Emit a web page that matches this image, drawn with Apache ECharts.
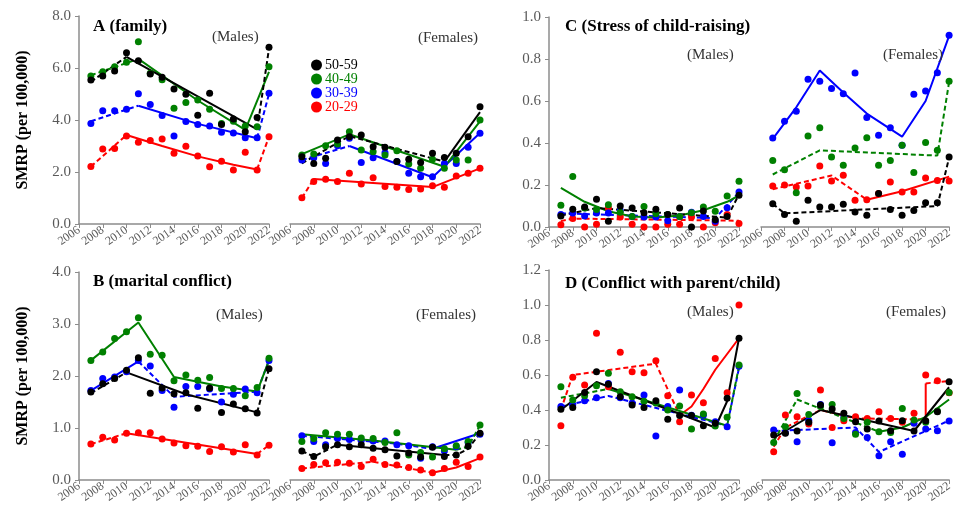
<!DOCTYPE html>
<html>
<head>
<meta charset="utf-8">
<script src="https://cdn.jsdelivr.net/npm/echarts@6/dist/echarts.min.js"></script>
<style>
html, body { margin: 0; padding: 0; background: #fff; }
#chart { width: 955px; height: 515px; }
</style>
</head>
<body>
<div id="chart"></div>
<script>
// years and age groups
var years = [2007, 2008, 2009, 2010, 2011, 2012, 2013, 2014, 2015, 2016, 2017, 2018, 2019, 2020, 2021, 2022];
var ageGroups = ['50-59', '40-49', '30-39', '20-29'];

// observed SMRP, rows in ageGroups order
var familyMales = [
  [5.54, 5.69, 5.88, 6.59, 6.28, 5.77, 5.64, 5.19, 4.99, 4.18, 5.03, 3.83, 4.04, 3.55, 4.10, 6.80],
  [5.69, 5.86, 6.05, 6.22, 7.01, 5.80, 5.55, 4.45, 4.67, 4.77, 4.41, 3.87, 3.95, 3.77, 3.74, 6.05],
  [3.87, 4.36, 4.36, 4.41, 5.01, 4.60, 4.17, 3.38, 3.94, 3.83, 3.77, 3.53, 3.50, 3.32, 3.32, 5.03],
  [2.21, 2.88, 2.90, 3.38, 3.14, 3.21, 3.27, 2.72, 2.99, 2.62, 2.20, 2.41, 2.08, 2.76, 2.08, 3.36]
];
var familyFemales = [
  [2.59, 2.33, 2.53, 3.23, 3.36, 3.42, 2.97, 2.95, 2.40, 2.49, 2.37, 2.72, 2.56, 2.72, 3.36, 4.51],
  [2.65, 2.69, 3.01, 3.08, 3.55, 2.85, 2.78, 2.65, 2.82, 2.31, 2.14, 2.49, 2.14, 2.46, 2.46, 4.00],
  [2.46, 2.55, 2.33, 3.01, 3.30, 2.37, 2.55, 2.74, 2.40, 1.95, 1.82, 1.82, 2.33, 2.33, 2.95, 3.49],
  [1.01, 1.63, 1.72, 1.63, 1.95, 1.54, 1.78, 1.44, 1.41, 1.33, 1.35, 1.47, 1.41, 1.85, 1.95, 2.14]
];
var maritalMales = [
  [1.69, 1.85, 1.95, 2.11, 2.35, 1.67, 1.77, 1.66, 1.68, 1.38, 1.77, 1.30, 1.46, 1.37, 1.29, 2.14],
  [2.30, 2.46, 2.72, 2.85, 3.12, 2.42, 2.40, 1.91, 2.02, 1.92, 1.97, 1.76, 1.76, 1.62, 1.78, 2.34],
  [1.72, 1.95, 1.98, 2.08, 2.30, 2.19, 1.72, 1.40, 1.80, 1.80, 1.75, 1.50, 1.65, 1.75, 1.68, 2.30],
  [0.69, 0.82, 0.77, 0.90, 0.91, 0.91, 0.79, 0.71, 0.66, 0.65, 0.55, 0.64, 0.54, 0.68, 0.48, 0.67]
];
var maritalFemales = [
  [0.56, 0.45, 0.64, 0.68, 0.64, 0.68, 0.61, 0.58, 0.46, 0.52, 0.44, 0.63, 0.45, 0.48, 0.65, 0.90],
  [0.74, 0.80, 0.91, 0.88, 0.88, 0.81, 0.80, 0.72, 0.91, 0.48, 0.53, 0.44, 0.60, 0.66, 0.74, 1.06],
  [0.85, 0.74, 0.68, 0.80, 0.78, 0.76, 0.75, 0.75, 0.68, 0.66, 0.42, 0.64, 0.56, 0.64, 0.72, 0.88],
  [0.22, 0.30, 0.33, 0.34, 0.32, 0.26, 0.40, 0.30, 0.29, 0.24, 0.19, 0.14, 0.22, 0.34, 0.26, 0.44]
];
var childMales = [
  [0.052, 0.085, 0.095, 0.132, 0.027, 0.100, 0.090, 0.068, 0.084, 0.060, 0.090, 0.000, 0.076, 0.035, 0.050, 0.151],
  [0.103, 0.241, 0.090, 0.083, 0.106, 0.070, 0.050, 0.098, 0.063, 0.060, 0.050, 0.068, 0.095, 0.075, 0.148, 0.218],
  [0.060, 0.067, 0.052, 0.067, 0.067, 0.079, 0.050, 0.048, 0.048, 0.030, 0.050, 0.070, 0.050, 0.027, 0.092, 0.167],
  [0.011, 0.040, 0.000, 0.013, 0.090, 0.048, 0.013, 0.000, 0.000, 0.013, 0.013, 0.048, 0.000, 0.020, 0.060, 0.017]
];
var childFemales = [
  [0.111, 0.059, 0.027, 0.127, 0.095, 0.095, 0.108, 0.071, 0.056, 0.159, 0.083, 0.056, 0.079, 0.116, 0.116, 0.333],
  [0.317, 0.273, 0.163, 0.433, 0.473, 0.333, 0.294, 0.376, 0.425, 0.294, 0.317, 0.389, 0.259, 0.402, 0.365, 0.694],
  [0.424, 0.503, 0.551, 0.703, 0.694, 0.659, 0.635, 0.733, 0.521, 0.437, 0.473, 0.389, 0.632, 0.648, 0.735, 0.913],
  [0.195, 0.200, 0.190, 0.195, 0.290, 0.219, 0.246, 0.127, 0.130, 0.159, 0.214, 0.167, 0.167, 0.233, 0.222, 0.219]
];
var parentMales = [
  [0.404, 0.415, 0.500, 0.619, 0.547, 0.476, 0.429, 0.415, 0.453, 0.347, 0.368, 0.368, 0.310, 0.324, 0.467, 0.810],
  [0.533, 0.457, 0.482, 0.539, 0.610, 0.505, 0.476, 0.450, 0.440, 0.400, 0.423, 0.291, 0.377, 0.309, 0.358, 0.657],
  [0.420, 0.430, 0.453, 0.470, 0.552, 0.470, 0.440, 0.486, 0.251, 0.420, 0.514, 0.370, 0.370, 0.333, 0.305, 0.650],
  [0.310, 0.587, 0.543, 0.838, 0.533, 0.730, 0.619, 0.613, 0.682, 0.482, 0.333, 0.486, 0.442, 0.695, 0.499, 1.000]
];
var parentFemales = [
  [0.257, 0.267, 0.280, 0.330, 0.429, 0.406, 0.381, 0.333, 0.291, 0.337, 0.282, 0.339, 0.280, 0.339, 0.390, 0.562],
  [0.215, 0.305, 0.495, 0.375, 0.420, 0.432, 0.352, 0.261, 0.330, 0.276, 0.271, 0.409, 0.343, 0.330, 0.394, 0.500],
  [0.286, 0.270, 0.219, 0.340, 0.432, 0.213, 0.360, 0.271, 0.243, 0.139, 0.219, 0.147, 0.324, 0.291, 0.282, 0.337],
  [0.162, 0.371, 0.362, 0.320, 0.514, 0.300, 0.339, 0.362, 0.352, 0.390, 0.352, 0.330, 0.381, 0.600, 0.567, 0.499]
];

// joinpoint fits: segments of [year, value], sig=false drawn dashed
var familyMalesFit = [
  [{sig: false, pts: [[2007, 5.47], [2010, 6.43]]}, {sig: true, pts: [[2010, 6.43], [2021, 3.64]]}, {sig: false, pts: [[2021, 3.64], [2022, 6.75]]}],
  [{sig: false, pts: [[2007, 5.72], [2011, 6.35]]}, {sig: true, pts: [[2011, 6.35], [2016, 4.75], [2020, 3.62]]}, {sig: true, pts: [[2020, 3.62], [2022, 5.85]]}],
  [{sig: false, pts: [[2007, 3.95], [2011, 4.55]]}, {sig: true, pts: [[2011, 4.55], [2016, 3.85], [2021, 3.30]]}, {sig: false, pts: [[2021, 3.30], [2022, 5.00]]}],
  [{sig: false, pts: [[2007, 2.21], [2010, 3.42]]}, {sig: true, pts: [[2010, 3.42], [2013, 3.00], [2016, 2.60], [2019, 2.28], [2021, 2.10]]}, {sig: false, pts: [[2021, 2.10], [2022, 3.36]]}]
];
var familyFemalesFit = [
  [{sig: false, pts: [[2007, 2.33], [2011, 3.38], [2019, 2.40]]}, {sig: true, pts: [[2019, 2.40], [2022, 4.30]]}],
  [{sig: true, pts: [[2007, 2.69], [2011, 3.45], [2019, 2.20], [2022, 3.95]]}],
  [{sig: false, pts: [[2007, 2.46], [2011, 3.00]]}, {sig: true, pts: [[2011, 3.00], [2018, 1.80], [2022, 3.50]]}],
  [{sig: false, pts: [[2007, 1.00], [2008, 1.73]]}, {sig: true, pts: [[2008, 1.73], [2018, 1.42], [2022, 2.14]]}]
];
var maritalMalesFit = [
  [{sig: false, pts: [[2007, 1.67], [2010, 2.07]]}, {sig: true, pts: [[2010, 2.07], [2015, 1.65], [2021, 1.30]]}, {sig: false, pts: [[2021, 1.30], [2022, 2.14]]}],
  [{sig: true, pts: [[2007, 2.30], [2011, 3.03], [2014, 1.98], [2018, 1.80], [2021, 1.70], [2022, 2.30]]}],
  [{sig: true, pts: [[2007, 1.72], [2011, 2.28]]}, {sig: false, pts: [[2011, 2.28], [2014, 1.60], [2021, 1.70], [2022, 2.30]]}],
  [{sig: false, pts: [[2007, 0.69], [2010, 0.90]]}, {sig: true, pts: [[2010, 0.90], [2021, 0.50]]}, {sig: false, pts: [[2021, 0.50], [2022, 0.67]]}]
];
var maritalFemalesFit = [
  [{sig: false, pts: [[2007, 0.56], [2008, 0.45], [2010, 0.68]]}, {sig: true, pts: [[2010, 0.68], [2019, 0.48]]}, {sig: false, pts: [[2019, 0.48], [2020, 0.48], [2021, 0.60], [2022, 0.90]]}],
  [{sig: true, pts: [[2007, 0.88], [2013, 0.76], [2020, 0.58]]}, {sig: false, pts: [[2020, 0.58], [2021, 0.64], [2022, 1.05]]}],
  [{sig: false, pts: [[2007, 0.85], [2015, 0.70], [2018, 0.60]]}, {sig: true, pts: [[2018, 0.60], [2022, 0.90]]}],
  [{sig: false, pts: [[2007, 0.22], [2013, 0.35], [2018, 0.14]]}, {sig: true, pts: [[2018, 0.14], [2020, 0.24], [2022, 0.42]]}]
];
var childMalesFit = [
  [{sig: false, pts: [[2007, 0.055], [2010, 0.090], [2021, 0.045], [2022, 0.155]]}],
  [{sig: true, pts: [[2007, 0.186], [2009, 0.120], [2011, 0.075], [2013, 0.050], [2015, 0.045], [2017, 0.055], [2019, 0.080], [2021, 0.120], [2022, 0.150]]}],
  [{sig: false, pts: [[2007, 0.065], [2020, 0.042], [2022, 0.165]]}],
  [{sig: false, pts: [[2007, 0.028], [2008, 0.040], [2022, 0.030]]}]
];
var childFemalesFit = [
  [{sig: false, pts: [[2007, 0.110], [2008, 0.065], [2021, 0.100], [2022, 0.330]]}],
  [{sig: false, pts: [[2007, 0.250], [2011, 0.365], [2021, 0.340], [2022, 0.690]]}],
  [{sig: true, pts: [[2007, 0.420], [2009, 0.570], [2011, 0.745], [2013, 0.640], [2015, 0.540], [2018, 0.430], [2020, 0.600], [2022, 0.910]]}],
  [{sig: false, pts: [[2007, 0.180], [2012, 0.245], [2015, 0.130]]}, {sig: true, pts: [[2015, 0.130], [2018, 0.170], [2022, 0.240]]}]
];
var parentMalesFit = [
  [{sig: true, pts: [[2007, 0.40], [2010, 0.56], [2020, 0.30], [2021, 0.45], [2022, 0.81]]}],
  [{sig: false, pts: [[2007, 0.47], [2011, 0.52]]}, {sig: true, pts: [[2011, 0.52], [2021, 0.31]]}, {sig: false, pts: [[2021, 0.31], [2022, 0.65]]}],
  [{sig: false, pts: [[2007, 0.42], [2011, 0.48], [2021, 0.31], [2022, 0.64]]}],
  [{sig: false, pts: [[2007, 0.40], [2008, 0.60], [2015, 0.665], [2017, 0.37]]}, {sig: true, pts: [[2017, 0.37], [2018, 0.42], [2019, 0.52], [2020, 0.63], [2021, 0.72], [2022, 0.81]]}]
];
var parentFemalesFit = [
  [{sig: true, pts: [[2007, 0.24], [2011, 0.40], [2019, 0.28], [2022, 0.53]]}],
  [{sig: false, pts: [[2007, 0.22], [2009, 0.46], [2016, 0.276]]}, {sig: true, pts: [[2016, 0.276], [2018, 0.30], [2020, 0.36], [2022, 0.46]]}],
  [{sig: false, pts: [[2007, 0.28], [2014, 0.30], [2016, 0.16], [2020, 0.28], [2022, 0.34]]}],
  [{sig: false, pts: [[2007, 0.19], [2008, 0.30], [2011, 0.40], [2014, 0.352], [2020, 0.346]]}, {sig: true, pts: [[2020, 0.346], [2020, 0.552]]}, {sig: false, pts: [[2020, 0.552], [2022, 0.566]]}]
];

var FONT = '"Liberation Serif", "Times New Roman", serif';
var COLORS = ['#000000', '#008000', '#0000ff', '#ff0000'];
var AXIS = '#8c8c8c';
var LABEL = '#595959';

var panels = [
  {title: 'A (family)', m: familyMales, mf: familyMalesFit, f: familyFemales, ff: familyFemalesFit,
   max: 8, step: 2, top: 16, h: 208, ml: 79, fl: 290, fw: 190, yName: true,
   tx: 88, ty: 13, mx: 207, my: 25, fx: 413, fy: 26},
  {title: 'B (marital conflict)', m: maritalMales, mf: maritalMalesFit, f: maritalFemales, ff: maritalFemalesFit,
   max: 4, step: 1, top: 272, h: 208, ml: 79, fl: 290, fw: 190, yName: true,
   tx: 88, ty: 268, mx: 211, my: 303, fx: 411, fy: 303},
  {title: 'C (Stress of child-raising)', m: childMales, mf: childMalesFit, f: childFemales, ff: childFemalesFit,
   max: 1, step: 0.2, top: 17, h: 210, ml: 549, fl: 761, fw: 191, yName: false,
   tx: 560, ty: 13, mx: 682, my: 43, fx: 878, fy: 43},
  {title: 'D (Conflict with parent/child)', m: parentMales, mf: parentMalesFit, f: parentFemales, ff: parentFemalesFit,
   max: 1.2, step: 0.2, top: 270, h: 210, ml: 549, fl: 762, fw: 190, yName: false,
   tx: 560, ty: 270, mx: 682, my: 300, fx: 881, fy: 300}
];

var grids = [], xAxes = [], yAxes = [], series = [], titles = [];

function xAxisFor(idx) {
  return {
    gridIndex: idx, type: 'value', min: 2006, max: 2022, interval: 2,
    axisLine: {show: true, lineStyle: {color: AXIS, width: 1.5}},
    axisTick: {show: true, length: 4, lineStyle: {color: AXIS}},
    splitLine: {show: false},
    axisLabel: {rotate: 35, margin: 5, fontSize: 12, color: LABEL, fontFamily: FONT,
      formatter: function (v) { return String(v); }}
  };
}

panels.forEach(function (p, pi) {
  var gm = pi * 2, gf = pi * 2 + 1;
  grids.push({left: p.ml, top: p.top, width: 190, height: p.h});
  grids.push({left: p.fl, top: p.top, width: p.fw, height: p.h});
  xAxes.push(xAxisFor(gm));
  xAxes.push(xAxisFor(gf));
  yAxes.push({
    gridIndex: gm, type: 'value', min: 0, max: p.max, interval: p.step,
    axisLine: {show: true, lineStyle: {color: AXIS, width: 1.5}},
    axisTick: {show: true, length: 4, lineStyle: {color: AXIS}},
    splitLine: {show: false},
    axisLabel: {fontSize: 15, color: LABEL, fontFamily: FONT, margin: 8,
      formatter: function (v) { return v.toFixed(1); }},
    name: p.yName ? 'SMRP (per 100,000)' : '',
    nameLocation: 'middle', nameGap: 48,
    nameTextStyle: {fontSize: 16, fontWeight: 'bold', color: '#000', fontFamily: FONT}
  });
  yAxes.push({gridIndex: gf, type: 'value', min: 0, max: p.max, show: false});

  [[p.m, p.mf, gm], [p.f, p.ff, gf]].forEach(function (s) {
    var obs = s[0], fit = s[1], g = s[2];
    for (var a = 3; a >= 0; a--) {
      fit[a].forEach(function (seg) {
        series.push({
          name: 'fit', type: 'line', xAxisIndex: g, yAxisIndex: g,
          data: seg.pts, showSymbol: false, silent: true, z: 2,
          lineStyle: {color: COLORS[a], width: 2, type: seg.sig ? 'solid' : [5, 3]}
        });
      });
      series.push({
        name: ageGroups[a], type: 'scatter', xAxisIndex: g, yAxisIndex: g,
        data: years.map(function (y, i) { return [y, obs[a][i]]; }),
        symbolSize: 7, itemStyle: {color: COLORS[a], opacity: 1}, z: 3
      });
    }
  });

  titles.push({text: p.title, left: p.tx, top: p.ty,
    textStyle: {fontSize: 17, fontWeight: 'bold', color: '#000', fontFamily: FONT}});
  titles.push({text: '(Males)', left: p.mx, top: p.my,
    textStyle: {fontSize: 15, fontWeight: 'normal', color: '#333', fontFamily: FONT}});
  titles.push({text: '(Females)', left: p.fx, top: p.fy,
    textStyle: {fontSize: 15, fontWeight: 'normal', color: '#333', fontFamily: FONT}});
});

var option = {
  animation: false,
  backgroundColor: '#fff',
  title: titles,
  legend: {
    orient: 'vertical', left: 306, top: 53, icon: 'circle',
    itemWidth: 11, itemHeight: 11, itemGap: 0,
    data: ageGroups.map(function (g, i) {
      return {name: g, textStyle: {color: COLORS[i]}};
    }),
    textStyle: {fontSize: 14, fontFamily: FONT, padding: [0, 0, 0, -2]},
    selectedMode: false
  },
  grid: grids,
  xAxis: xAxes,
  yAxis: yAxes,
  series: series
};

var myChart = echarts.init(document.getElementById('chart'));
myChart.setOption(option);
</script>
</body>
</html>
